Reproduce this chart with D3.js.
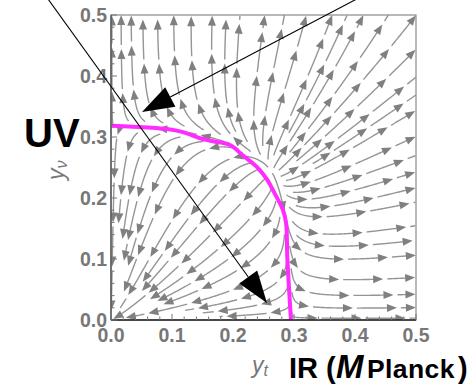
<!DOCTYPE html>
<html><head><meta charset="utf-8">
<script src="https://cdn.jsdelivr.net/npm/d3@7"></script>
<style>body{margin:0;background:#fff} svg{display:block}</style>
</head><body><svg id="c" width="476" height="387"></svg>
<script>
// ---------------- data ----------------
const xTicks = [0, 0.1, 0.2, 0.3, 0.4, 0.5];
const xTickLabels = ["0.0", "0.1", "0.2", "0.3", "0.4", "0.5"];
const yTicks = [0, 0.1, 0.2, 0.3, 0.4, 0.5];
const yTickLabels = ["0.0", "0.1", "0.2", "0.3", "0.4", "0.5"];
const minorStep = 0.02;
// fixed points of the flow: (y_t*,0), (0,y_nu*), interior corner
const fixedPointYt = [0.296, 0];
const fixedPointYnu = [0, 0.318];
const fixedPointInterior = [0.265, 0.24];
// magenta separatrix
const sepYt  = [0, 0.036, 0.092, 0.118, 0.146, 0.167, 0.195, 0.216, 0.239, 0.256, 0.267, 0.282, 0.287, 0.289, 0.292, 0.295];
const sepYnu = [0.3185, 0.317, 0.313, 0.308, 0.298, 0.293, 0.287, 0.270, 0.251, 0.230, 0.210, 0.180, 0.159, 0.103, 0.049, 0.0];
// annotation arrows (start, tip) in data coords
const arrowStarts = [[-0.106, 0.530], [0.410, 0.530]];
const arrowTips   = [[0.2557, 0.0279], [0.0508, 0.341]];

// ---------------- setup ----------------
const svg = d3.select("#c");
const x = d3.scaleLinear().domain([0, 0.5]).range([111, 416]);
const y = d3.scaleLinear().domain([0, 0.5]).range([320, 15]);
const X0 = x(0), X1 = x(0.5), Y0 = y(0.5), Y1 = y(0);

svg.append("defs").append("clipPath").attr("id", "clip")
  .append("rect").attr("x", X0).attr("y", Y0).attr("width", X1 - X0).attr("height", Y1 - Y0);

// vector field coefficients from fixed points
const f1 = fixedPointYt[0] ** 2, f2 = fixedPointYnu[1] ** 2;
const Cu2 = fixedPointInterior[0] ** 2, Cv2 = fixedPointInterior[1] ** 2;
const kb = (f1 - Cu2) / Cv2, kc = (f2 - Cv2) / Cu2;

function vel(px, py) {
  const u = x.invert(px), v = y.invert(py);
  const U = u * u, V = v * v;
  const du = u * (U + kb * V - f1), dv = v * (kc * U + V - f2);
  const gx = du, gy = -dv;
  const m = Math.hypot(gx, gy);
  if (m < 1e-7) return null;
  return [gx / m, gy / m, m];
}

const dsep = 13, dtest = dsep * 0.42, step = 1;
const grid = new Map();
function gkey(i, j) { return i * 10000 + j; }
function addPt(px, py) {
  const k = gkey(Math.floor(px / dsep), Math.floor(py / dsep));
  if (!grid.has(k)) grid.set(k, []);
  grid.get(k).push([px, py]);
}
function near(px, py, d) {
  const ci = Math.floor(px / dsep), cj = Math.floor(py / dsep);
  for (let i = ci - 1; i <= ci + 1; i++) for (let j = cj - 1; j <= cj + 1; j++) {
    const a = grid.get(gkey(i, j)); if (!a) continue;
    for (const q of a) if ((q[0] - px) ** 2 + (q[1] - py) ** 2 < d * d) return true;
  }
  return false;
}
function inB(px, py) { return px >= X0 && px <= X1 && py >= Y0 && py <= Y1; }

function trace(sx, sy, dir) {
  const pts = []; let px = sx, py = sy, prev = null;
  for (let k = 0; k < 1500; k++) {
    const v1 = vel(px, py); if (!v1) break;
    const v2 = vel(px + dir * v1[0] * step * 0.5, py + dir * v1[1] * step * 0.5); if (!v2) break;
    if (prev && (v2[0] * prev[0] + v2[1] * prev[1]) < 0.6) break;
    const nx = px + dir * v2[0] * step, ny = py + dir * v2[1] * step;
    if (!inB(nx, ny)) break;
    if (near(nx, ny, dtest)) break;
    pts.push([nx, ny]); px = nx; py = ny; prev = v2;
  }
  return pts;
}

const lines = [];
function trySeed(sx, sy) {
  if (!inB(sx, sy)) return false;
  if (near(sx, sy, dsep * 0.95)) return false;
  if (!vel(sx, sy)) return false;
  const f = trace(sx, sy, 1), b = trace(sx, sy, -1);
  const pts = b.reverse().concat([[sx, sy]], f);
  if (pts.length < 12) return false;
  lines.push(pts);
  pts.forEach(p => addPt(p[0], p[1]));
  return true;
}

trySeed(x(0.4), y(0.1));
let qi = 0;
while (true) {
  while (qi < lines.length) {
    const L = lines[qi++];
    for (let k = 0; k < L.length; k += 3) {
      const p = L[k], q = L[Math.min(k + 1, L.length - 1)], o = L[Math.max(k - 1, 0)];
      let tx = q[0] - o[0], ty = q[1] - o[1]; const m = Math.hypot(tx, ty) || 1; tx /= m; ty /= m;
      trySeed(p[0] - ty * dsep, p[1] + tx * dsep);
      trySeed(p[0] + ty * dsep, p[1] - tx * dsep);
    }
  }
  let added = false;
  outer: for (let gx = X0 + 3; gx < X1; gx += 5) for (let gy = Y0 + 3; gy < Y1; gy += 5) {
    if (trySeed(gx, gy)) { added = true; break outer; }
  }
  if (!added) break;
}

// ---------------- draw streamlines ----------------
const plot = svg.append("g").attr("clip-path", "url(#clip)");
const segLen = 44, gap = 4, aLen = 10, aHalf = 4;
const lineGen = d3.line();
lines.forEach((L, li) => {
  const cum = [0];
  for (let i = 1; i < L.length; i++) cum.push(cum[i - 1] + Math.hypot(L[i][0] - L[i - 1][0], L[i][1] - L[i - 1][1]));
  const total = cum[cum.length - 1];
  function at(s) {
    let i = d3.bisectLeft(cum, s); if (i <= 0) return L[0]; if (i >= L.length) return L[L.length - 1];
    const t = (s - cum[i - 1]) / (cum[i] - cum[i - 1] || 1);
    return [L[i - 1][0] + t * (L[i][0] - L[i - 1][0]), L[i - 1][1] + t * (L[i][1] - L[i - 1][1])];
  }
  const phase = (li * 13) % 20;
  let s = -phase;
  while (s < total) {
    const a = Math.max(0, s), b = Math.min(total, s + segLen - gap);
    if (b - a >= 12) {
      const tip = at(b), back = at(b - 4);
      let dx = tip[0] - back[0], dy = tip[1] - back[1]; const m = Math.hypot(dx, dy) || 1; dx /= m; dy /= m;
      const lineEnd = b - aLen * 0.6;
      const pts = [at(a)];
      for (let i = 0; i < L.length; i++) if (cum[i] > a && cum[i] < lineEnd) pts.push(L[i]);
      pts.push(at(lineEnd));
      plot.append("path").attr("d", lineGen(pts)).attr("fill", "none")
        .attr("stroke", "#959595").attr("stroke-width", 1.4);
      const bx = tip[0] - dx * aLen, by = tip[1] - dy * aLen;
      plot.append("path").attr("d", `M${tip[0]},${tip[1]}L${bx - dy * aHalf},${by + dx * aHalf}L${bx + dy * aHalf},${by - dx * aHalf}Z`)
        .attr("fill", "#808080");
    } else if (b - a > 1) {
      plot.append("path").attr("d", lineGen([at(a), at(b)])).attr("fill", "none")
        .attr("stroke", "#959595").attr("stroke-width", 1.4);
    }
    s += segLen;
  }
});

// ---------------- separatrix ----------------
plot.append("path")
  .attr("d", d3.line().curve(d3.curveCatmullRom)(sepYt.map((u, i) => [x(u), y(sepYnu[i])])))
  .attr("fill", "none").attr("stroke", "#ff2bff").attr("stroke-width", 4);

// ---------------- frame & ticks ----------------
const fg = svg.append("g");
fg.append("rect").attr("x", X0).attr("y", Y0).attr("width", X1 - X0).attr("height", Y1 - Y0)
  .attr("fill", "none").attr("stroke", "#8a8a8a").attr("stroke-width", 1.2);
fg.append("line").attr("x1", X0).attr("x2", X1).attr("y1", Y1).attr("y2", Y1).attr("stroke", "#222").attr("stroke-width", 1.6);
fg.append("line").attr("x1", X0).attr("x2", X0).attr("y1", Y0).attr("y2", Y1).attr("stroke", "#555").attr("stroke-width", 1.4);
const minor = d3.range(0, 0.5001, minorStep);
minor.forEach(t => {
  const major = Math.abs(t * 10 - Math.round(t * 10)) < 1e-6;
  const l = major ? 6 : 3.5;
  fg.append("line").attr("x1", x(t)).attr("x2", x(t)).attr("y1", Y1).attr("y2", Y1 - l).attr("stroke", "#777").attr("stroke-width", 1);
  fg.append("line").attr("x1", X0).attr("x2", X0 + l).attr("y1", y(t)).attr("y2", y(t)).attr("stroke", "#777").attr("stroke-width", 1);
});
const font = "'Liberation Sans', Arial, sans-serif";
fg.selectAll("text.xt").data(xTicks).join("text").attr("class", "xt")
  .attr("x", d => x(d)).attr("y", 342).attr("text-anchor", "middle")
  .attr("font-family", font).attr("font-weight", "bold").attr("font-size", 19.5).attr("fill", "#777")
  .text((d, i) => xTickLabels[i]);
fg.selectAll("text.yt").data(yTicks).join("text").attr("class", "yt")
  .attr("x", 107).attr("y", d => y(d) + 7).attr("text-anchor", "end")
  .attr("font-family", font).attr("font-weight", "bold").attr("font-size", 19.5).attr("fill", "#777")
  .text((d, i) => yTickLabels[i]);

// axis labels
const xl = svg.append("text").attr("x", 252).attr("y", 373).attr("font-family", font)
  .attr("font-style", "italic").attr("font-size", 23).attr("fill", "#777");
xl.append("tspan").text("y");
xl.append("tspan").attr("font-size", 16).attr("dy", 3).text("t");
const yl = svg.append("text").attr("transform", "translate(64,180) rotate(-90)").attr("font-family", font)
  .attr("font-style", "italic").attr("font-size", 23).attr("fill", "#777");
yl.append("tspan").text("y");
yl.append("tspan").attr("font-size", 16).attr("dy", 3).text("ν");

// big labels
svg.append("text").attr("x", 24).attr("y", 147).attr("font-family", font).attr("font-weight", "bold")
  .attr("font-size", 40).attr("fill", "#000").text("UV");
const ir = svg.append("text").attr("y", 378).attr("font-family", font).attr("font-weight", "bold").attr("fill", "#000");
ir.append("tspan").attr("x", 289).attr("font-size", 29).text("IR (");
ir.append("tspan").attr("x", 336).attr("font-size", 33).attr("font-style", "italic").text("M");
ir.append("tspan").attr("x", 367).attr("font-size", 26.5).attr("letter-spacing", 0.4).text("Planck");
ir.append("tspan").attr("x", 458).attr("font-size", 29).text(")");

// annotation arrows
arrowStarts.forEach((s, i) => {
  const t = arrowTips[i];
  const sx = x(s[0]), sy = y(s[1]), tx = x(t[0]), ty = y(t[1]);
  let dx = tx - sx, dy = ty - sy; const m = Math.hypot(dx, dy); dx /= m; dy /= m;
  const hl = 32, hw = 11;
  const bx = tx - dx * hl, by = ty - dy * hl;
  svg.append("line").attr("x1", sx).attr("y1", sy).attr("x2", bx).attr("y2", by).attr("stroke", "#000").attr("stroke-width", 1.1);
  svg.append("path").attr("d", `M${tx},${ty}L${bx - dy * hw},${by + dx * hw}L${bx + dy * hw},${by - dx * hw}Z`).attr("fill", "#000");
});
</script></body></html>
